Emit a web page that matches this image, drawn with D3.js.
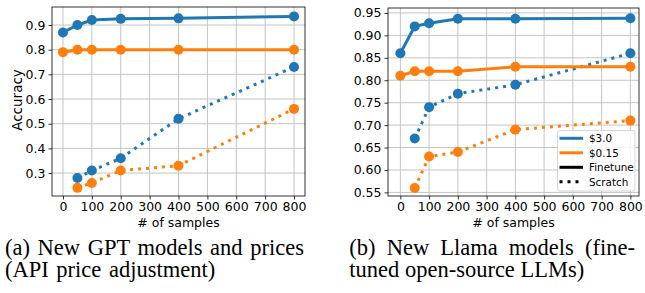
<!DOCTYPE html>
<html><head><meta charset="utf-8">
<script src="https://cdn.jsdelivr.net/npm/d3@7"></script>
<style>
html,body{margin:0;padding:0;background:#fff;}
svg{display:block;}
.tick text{font-family:"DejaVu Sans",sans-serif;}
</style></head>
<body>
<svg id="c" width="645" height="293"></svg>
<script>
// ---- data ----
const xTickValues = [0,100,200,300,400,500,600,700,800];
const samplesFinetune = [0,50,100,200,400,800];
const samplesScratch = [50,100,200,400,800];

const gptFinetune30  = [0.87,0.90,0.92,0.925,0.927,0.935];
const gptFinetune015 = [0.79,0.80,0.80,0.80,0.80,0.80];
const gptScratch30   = [0.28,0.31,0.36,0.52,0.73];
const gptScratch015  = [0.24,0.26,0.31,0.33,0.56];
const gptYTicks = [0.3,0.4,0.5,0.6,0.7,0.8,0.9];

const llamaFinetune30  = [0.86,0.92,0.927,0.937,0.937,0.938];
const llamaFinetune015 = [0.81,0.82,0.82,0.82,0.83,0.83];
const llamaScratch30   = [0.67,0.74,0.77,0.79,0.86];
const llamaScratch015  = [0.56,0.63,0.64,0.69,0.71];
const llamaYTicks = [0.55,0.60,0.65,0.70,0.75,0.80,0.85,0.90,0.95];

const legendLabels = ["$3.0","$0.15","Finetune","Scratch"];
const captionA = ["(a) New GPT models and prices","(API price adjustment)"];
const captionB = ["(b) New Llama models (fine-","tuned open-source LLMs)"];

const BLUE="#1f77b4", ORANGE="#ff7f0e";
const svg = d3.select("#c");
const TICK_FS = 12.5;

function panel(opt){
  const g = svg.append("g");
  const x = d3.scaleLinear().domain(opt.xDom).range([opt.left,opt.right]);
  const y = d3.scaleLinear().domain(opt.yDom).range([opt.bottom,opt.top]);
  // grid
  g.append("g").selectAll("line").data(xTickValues).join("line")
    .attr("x1",d=>x(d)).attr("x2",d=>x(d)).attr("y1",opt.top).attr("y2",opt.bottom)
    .attr("stroke","#c4c4c4").attr("stroke-width",1);
  g.append("g").selectAll("line").data(opt.yTicks).join("line")
    .attr("y1",d=>y(d)).attr("y2",d=>y(d)).attr("x1",opt.left).attr("x2",opt.right)
    .attr("stroke","#c4c4c4").attr("stroke-width",1);
  // series
  const series = [
    {xs:samplesFinetune, ys:opt.f30, c:BLUE, dash:null},
    {xs:samplesScratch, ys:opt.s30, c:BLUE, dash:"3,5"},
    {xs:samplesFinetune, ys:opt.f015, c:ORANGE, dash:null},
    {xs:samplesScratch, ys:opt.s015, c:ORANGE, dash:"3,5"}
  ];
  const line = d3.line().x(d=>x(d[0])).y(d=>y(d[1]));
  series.forEach(s=>{
    const pts = s.xs.map((v,i)=>[v,s.ys[i]]);
    g.append("path").attr("d",line(pts)).attr("fill","none").attr("stroke",s.c)
      .attr("stroke-width",3).attr("stroke-dasharray",s.dash).attr("stroke-linecap","butt");
    g.append("g").selectAll("circle").data(pts).join("circle")
      .attr("cx",d=>x(d[0])).attr("cy",d=>y(d[1])).attr("r",5).attr("fill",s.c);
  });
  // axes
  const ax = g.append("g").attr("transform",`translate(0,${opt.bottom})`)
    .call(d3.axisBottom(x).tickValues(xTickValues).tickSize(3.5).tickPadding(3).tickFormat(d3.format("d")));
  const ay = g.append("g").attr("transform",`translate(${opt.left},0)`)
    .call(d3.axisLeft(y).tickValues(opt.yTicks).tickSize(3.5).tickPadding(3).tickFormat(d3.format(opt.fmt)));
  [ax,ay].forEach(a=>{
    a.select(".domain").remove();
    a.selectAll(".tick line").attr("stroke","#000").attr("stroke-width",0.8);
    a.selectAll(".tick text").attr("font-size",TICK_FS).attr("fill","#000");
  });
  // frame
  g.append("rect").attr("x",opt.left).attr("y",opt.top).attr("width",opt.right-opt.left)
    .attr("height",opt.bottom-opt.top).attr("fill","none").attr("stroke","#000").attr("stroke-width",0.8);
  // x label
  g.append("text").attr("x",(opt.left+opt.right)/2).attr("y",226.5)
    .attr("text-anchor","middle").attr("font-family","DejaVu Sans").attr("font-size",12.5).text("# of samples");
  return {g,x,y};
}

const A = panel({left:52,right:305,top:7,bottom:196,xDom:[-38,838],yDom:[0.207,0.973],
  yTicks:gptYTicks,fmt:".1f",f30:gptFinetune30,f015:gptFinetune015,s30:gptScratch30,s015:gptScratch015});
svg.append("text").attr("transform","translate(21.5,100) rotate(-90)").attr("text-anchor","middle")
  .attr("font-family","DejaVu Sans").attr("font-size",13.5).text("Accuracy");

const B = panel({left:388,right:639,top:8,bottom:196,xDom:[-43,830],yDom:[0.542,0.961],
  yTicks:llamaYTicks,fmt:".2f",f30:llamaFinetune30,f015:llamaFinetune015,s30:llamaScratch30,s015:llamaScratch015});

// legend
const lg = svg.append("g");
lg.append("rect").attr("x",557.5).attr("y",130.5).attr("width",77.5).attr("height",60.5)
  .attr("rx",2).attr("fill","#fff").attr("fill-opacity",0.8).attr("stroke","#cccccc").attr("stroke-width",0.8);
const legStyles=[{c:BLUE,d:null},{c:ORANGE,d:null},{c:"#000",d:null},{c:"#000",d:"3,5"}];
legendLabels.forEach((t,i)=>{
  const yy = 138.3 + i*14.5;
  lg.append("line").attr("x1",559.5).attr("x2",583).attr("y1",yy).attr("y2",yy)
    .attr("stroke",legStyles[i].c).attr("stroke-width",3).attr("stroke-dasharray",legStyles[i].d);
  lg.append("text").attr("x",589).attr("y",yy+3.8).attr("font-family","DejaVu Sans")
    .attr("font-size",10.4).text(t);
});

// captions
const capFont = "Liberation Serif";
const CAP_FS = 22.5;
svg.append("text").attr("x",5).attr("y",255).attr("font-family",capFont)
  .attr("font-size",CAP_FS).attr("word-spacing",2).text(captionA[0]);
svg.append("text").attr("x",5).attr("y",277).attr("font-family",capFont)
  .attr("font-size",CAP_FS).attr("word-spacing",2).text(captionA[1]);
svg.append("text").attr("x",349.3).attr("y",255).attr("font-family",capFont)
  .attr("font-size",CAP_FS).attr("word-spacing",5.5).text(captionB[0]);
svg.append("text").attr("x",349.3).attr("y",277).attr("font-family",capFont)
  .attr("font-size",CAP_FS).text(captionB[1]);
</script>
</body></html>
